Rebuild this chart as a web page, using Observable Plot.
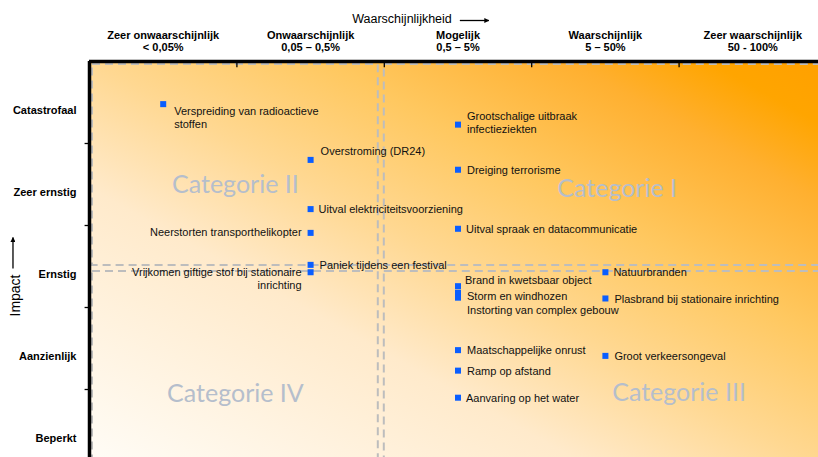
<!DOCTYPE html>
<html><head><meta charset="utf-8">
<script src="https://cdn.jsdelivr.net/npm/d3@7"></script>
<script src="https://cdn.jsdelivr.net/npm/@observablehq/plot@0.6"></script>
<style>
html,body{margin:0;padding:0;background:#fff;overflow:hidden;width:818px;height:457px}
#chart svg{display:block;max-width:none !important;width:826px;height:475px}
</style></head><body><div id="chart"></div>
<script>
// ---- data ----
const titleX = "Waarschijnlijkheid";
const titleY = "Impact";
const probabilityLabels = ["Zeer onwaarschijnlijk", "Onwaarschijnlijk", "Mogelijk", "Waarschijnlijk", "Zeer waarschijnlijk"];
const probabilityRanges = ["< 0,05%", "0,05 – 0,5%", "0,5 – 5%", "5 – 50%", "50 - 100%"];
const impactLabels = ["Beperkt", "Aanzienlijk", "Ernstig", "Zeer ernstig", "Catastrofaal"];

const riskNames = [
  "Verspreiding van radioactieve\nstoffen",
  "Overstroming (DR24)",
  "Uitval elektriciteitsvoorziening",
  "Neerstorten transporthelikopter",
  "Paniek tijdens een festival",
  "Vrijkomen giftige stof bij stationaire\ninrichting",
  "Grootschalige uitbraak\ninfectieziekten",
  "Dreiging terrorisme",
  "Uitval spraak en datacommunicatie",
  "Brand in kwetsbaar object",
  "Storm en windhozen",
  "Instorting van complex gebouw",
  "Natuurbranden",
  "Plasbrand bij stationaire inrichting",
  "Maatschappelijke onrust",
  "Groot verkeersongeval",
  "Ramp op afstand",
  "Aanvaring op het water"
];
const riskProbability = [0.5, 1.5, 1.5, 1.5, 1.5, 1.5, 2.5, 2.5, 2.5, 2.5, 2.5, 2.5, 3.5, 3.5, 2.5, 3.5, 2.5, 2.5];
const riskImpact      = [4.48, 3.80, 3.20, 2.91, 2.52, 2.43, 4.23, 3.68, 2.96, 2.26, 2.18, 2.12, 2.43, 2.11, 1.48, 1.41, 1.23, 0.90];

const categoryNames = ["Categorie I", "Categorie II", "Categorie III", "Categorie IV"];
const categoryProbability = [3.58, 0.99, 4.0, 0.99];
const categoryImpact = [3.45, 3.49, 0.96, 0.95];
const quadrantX1 = [2, 0, 2, 0];
const quadrantX2 = [5, 2, 5, 2];
const quadrantY1 = [2.5, 2.5, 0, 0];
const quadrantY2 = [5, 5, 2.5, 2.5];

// ---- tables ----
const risks = riskNames.map((name, i) => ({name, p: riskProbability[i], impact: riskImpact[i]}));
const categories = categoryNames.map((name, i) => ({name, p: categoryProbability[i], impact: categoryImpact[i]}));
const quadrants = quadrantX1.map((x1, i) => ({x1, x2: quadrantX2[i], y1: quadrantY1[i], y2: quadrantY2[i]}));
const columns = probabilityLabels.map((label, i) => ({label: label + "\n" + probabilityRanges[i], i}));
const rows = impactLabels.map((label, i) => ({label, i}));

// label placement (pixel offsets from the marker)
const placement = {
  "Verspreiding van radioactieve\nstoffen": {dx: 11, dy: 13.5},
  "Overstroming (DR24)": {dx: 10, dy: -9},
  "Uitval elektriciteitsvoorziening": {dx: 8, dy: 0},
  "Neerstorten transporthelikopter": {dx: -9, dy: -1, anchor: "end"},
  "Vrijkomen giftige stof bij stationaire\ninrichting": {dx: -9, dy: 6.5, anchor: "end"},
  "Grootschalige uitbraak\ninfectieziekten": {dx: 9, dy: -2},
  "Brand in kwetsbaar object": {dx: 7, dy: -6},
  "Storm en windhozen": {dx: 9, dy: 3},
  "Instorting van complex gebouw": {dx: 9, dy: 12},
  "Uitval spraak en datacommunicatie": {dx: 8, dy: 0},
  "Natuurbranden": {dx: 8, dy: 0},
  "Aanvaring op het water": {dx: 8, dy: 0}
};

const font = "'Liberation Sans', Arial, sans-serif";
const labelMarks = risks.map(d => {
  const pl = placement[d.name] || {dx: 9, dy: 0};
  return Plot.text([d], {
    x: "p", y: "impact", text: "name",
    dx: pl.dx, dy: pl.dy, textAnchor: pl.anchor || "start", lineAnchor: "middle",
    lineHeight: 1.18, fontSize: 11, fill: "#111", fontFamily: font
  });
});

// quadrant outlines: [insetLeft, insetRight, insetTop, insetBottom] per quadrant
const quadInsets = [[0, 0, 3, 1], [3, 6, 3, 1], [0, 0, 5, 0], [3, 6, 5, 0]];
const quadMarks = quadrants.map((q, i) => Plot.rect([q], {
  x1: "x1", x2: "x2", y1: "y1", y2: "y2", fill: "none", stroke: "#BDBDBD", strokeWidth: 2, strokeDasharray: "8,5",
  insetLeft: quadInsets[i][0], insetRight: quadInsets[i][1], insetTop: quadInsets[i][2], insetBottom: quadInsets[i][3]
}));

const plot = Plot.plot({
  width: 826,
  height: 475,
  marginLeft: 89,
  marginRight: 0,
  marginTop: 61,
  marginBottom: 4,
  x: {domain: [0, 5], axis: null},
  y: {domain: [0, 5], axis: null},
  style: {fontFamily: font, background: "transparent", overflow: "visible", maxWidth: "none"},
  marks: [
    Plot.frame({fill: "url(#bggrad)", stroke: "none"}),
    ...quadMarks,
    Plot.text(categories, {x: "p", y: "impact", text: "name", fontSize: 25, fill: "#B5BECC", fontFamily: "Lato, 'Open Sans', sans-serif"}),
    ...labelMarks,
    Plot.dot(risks, {x: "p", y: "impact", symbol: "square", r: 3.4, fill: "#0A5EFF", stroke: "none"}),
    // axis lines and ticks
    Plot.ruleX([1, 2, 3, 4], {y1: 5, y2: 4.925, stroke: "#000", strokeWidth: 1.3}),
    Plot.ruleY([1, 2, 3, 4], {x1: -0.03, x2: 0, stroke: "#000", strokeWidth: 1.3, clip: false}),
    Plot.ruleX([0], {stroke: "#000", strokeWidth: 3.5}),
    Plot.ruleY([5], {stroke: "#000", strokeWidth: 3.5}),
    // column headers
    Plot.text(columns, {x: d => d.i + 0.5, frameAnchor: "top", lineAnchor: "middle", dy: -20, text: "label", fontWeight: "bold", fontSize: 11, lineHeight: 1.1, fill: "#000", fontFamily: "'Liberation Sans Narrow', 'Arial Narrow', " + font}),
    // row labels
    Plot.text(rows, {y: d => d.i + 0.5, frameAnchor: "left", dx: -13, dy: 8, textAnchor: "end", text: "label", fontWeight: "bold", fontSize: 11, fill: "#000"}),
    // titles
    Plot.text([titleX], {frameAnchor: "top", lineAnchor: "middle", dx: -56, dy: -43, text: d => d, fontSize: 12.5, fill: "#000"}),
    Plot.text([titleY], {frameAnchor: "left", lineAnchor: "middle", dx: -74, dy: 50, rotate: -90, text: d => d, fontSize: 14, fill: "#000"})
  ]
});

document.getElementById("chart").appendChild(plot);

// gradient and arrows
const svg = d3.select(plot);
const defs = svg.insert("defs", ":first-child");
const grad = defs.append("linearGradient").attr("id", "bggrad")
  .attr("x1", 0).attr("y1", 1).attr("x2", 1).attr("y2", 0);
[[0, "#FFFDF8"], [0.345, "#FFEACB"], [0.5, "#FFD892"], [0.66, "#FFC860"], [0.825, "#FFB030"], [0.92, "#FFA500"], [1, "#FFA000"]]
  .forEach(([o, c]) => grad.append("stop").attr("offset", o).attr("stop-color", c));
defs.append("marker").attr("id", "arrowhead").attr("viewBox", "0 0 10 10")
  .attr("refX", 9).attr("refY", 5).attr("markerWidth", 5).attr("markerHeight", 5)
  .attr("markerUnits", "userSpaceOnUse").attr("orient", "auto")
  .append("path").attr("d", "M0,0L10,5L0,10Z").attr("fill", "#000");

const findText = t => svg.selectAll("text").filter(function () { return this.textContent === t; }).node();
const tx = findText(titleX).getBoundingClientRect();
svg.append("line").attr("x1", tx.right + 8).attr("x2", tx.right + 37)
  .attr("y1", tx.top + tx.height / 2 + 2).attr("y2", tx.top + tx.height / 2 + 2)
  .attr("stroke", "#000").attr("stroke-width", 1.3).attr("marker-end", "url(#arrowhead)");
const ty = findText(titleY).getBoundingClientRect();
svg.append("line").attr("x1", ty.left + ty.width / 2 - 2).attr("x2", ty.left + ty.width / 2 - 2)
  .attr("y1", ty.top - 6).attr("y2", ty.top - 37)
  .attr("stroke", "#000").attr("stroke-width", 1.3).attr("marker-end", "url(#arrowhead)");
</script></body></html>
